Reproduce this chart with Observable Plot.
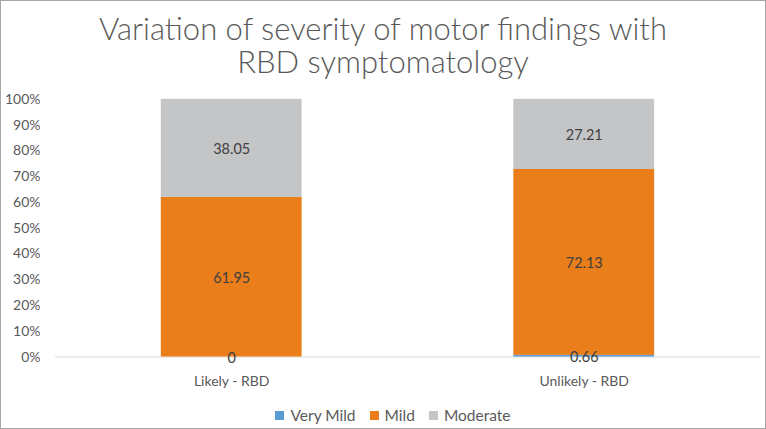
<!DOCTYPE html>
<html>
<head>
<meta charset="utf-8">
<script src="https://cdn.jsdelivr.net/npm/d3@7"></script>
<script src="https://cdn.jsdelivr.net/npm/@observablehq/plot@0.6"></script>
<style>
  html, body { margin: 0; padding: 0; background: #fff; }
  #wrap { position: relative; width: 766px; height: 429px; box-sizing: border-box; border: 1px solid #a6a6a6; overflow: hidden; font-family: Lato, "Open Sans", sans-serif; }
  #title { position: absolute; left: 0; top: 11px; width: 100%; text-align: center; font-size: 31px; font-weight: 300; line-height: 33px; color: #595959; }
  #chart { position: absolute; left: -1px; top: -1px; }
  #legend { position: absolute; left: 10px; top: 405px; width: 100%; display: flex; justify-content: center; gap: 14px; font-size: 15.5px; color: #595959; }
  #legend span.item { display: inline-flex; align-items: center; }
  #legend span.sw { display: inline-block; width: 9px; height: 9px; margin-right: 6px; }
</style>
</head>
<body>
<div id="wrap">
  <div id="title">Variation of severity of motor findings with<br>RBD symptomatology</div>
  <div id="chart"></div>
  <div id="legend"></div>
</div>
<script>
const categories = ["Likely - RBD", "Unlikely - RBD"];
const seriesNames = ["Very Mild", "Mild", "Moderate"];
const veryMild = [0, 0.66];
const mild = [61.95, 72.13];
const moderate = [38.05, 27.21];
const colors = ["#5B9BD5", "#E97E1A", "#C4C5C6"];
const yTicks = [0, 10, 20, 30, 40, 50, 60, 70, 80, 90, 100];

const seriesValues = [veryMild, mild, moderate];
const data = [];
categories.forEach((c, i) => {
  seriesNames.forEach((s, j) => {
    data.push({category: c, series: s, value: seriesValues[j][i]});
  });
});

const plot = Plot.plot({
  width: 766,
  height: 429,
  marginTop: 99,
  marginBottom: 72,
  marginLeft: 55,
  marginRight: 5,
  style: {fontFamily: "Lato, 'Open Sans', sans-serif", fontSize: "14px", color: "#595959", background: "transparent"},
  x: {domain: categories, paddingInner: 0.6, paddingOuter: 0.3, label: null, tickSize: 0, tickPadding: 19},
  y: {domain: [0, 100], label: null, ticks: yTicks, tickFormat: d => d + "%", tickSize: 0, tickPadding: 15},
  color: {domain: seriesNames, range: colors},
  marks: [
    Plot.ruleY([0], {stroke: "#d9d9d9", strokeWidth: 1}),
    Plot.barY(data, Plot.stackY({x: "category", y: "value", z: "series", fill: "series", order: seriesNames})),
    Plot.text(data, Plot.stackY({x: "category", y: "value", z: "series", order: seriesNames, text: d => String(d.value), fill: "#404040", fontSize: 14.5, dy: 1}))
  ]
});
document.getElementById("chart").appendChild(plot);

const legend = document.getElementById("legend");
seriesNames.forEach((s, i) => {
  const item = document.createElement("span");
  item.className = "item";
  const sw = document.createElement("span");
  sw.className = "sw";
  sw.style.background = colors[i];
  item.appendChild(sw);
  item.appendChild(document.createTextNode(s));
  legend.appendChild(item);
});
</script>
</body>
</html>
